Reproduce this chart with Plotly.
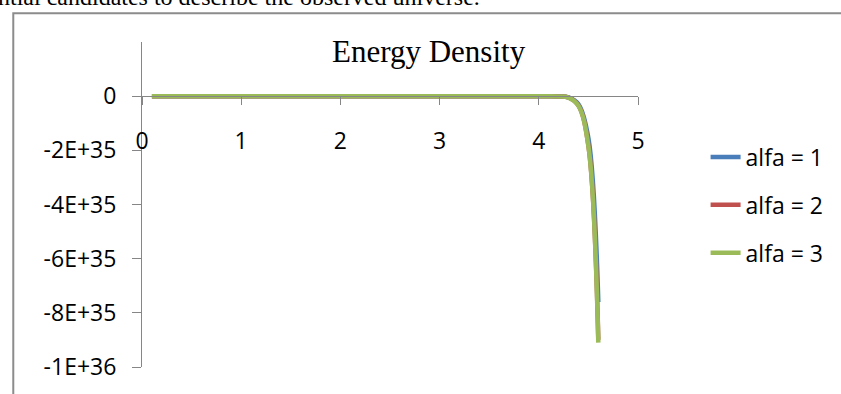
import plotly.graph_objects as go

# x positions of the samples
x_vals = [0.1, 0.2, 0.3, 0.4, 0.5, 0.6, 0.7, 0.8, 0.9, 1.0,
          1.1, 1.2, 1.3, 1.4, 1.5, 1.6, 1.7, 1.8, 1.9, 2.0,
          2.1, 2.2, 2.3, 2.4, 2.5, 2.6, 2.7, 2.8, 2.9, 3.0,
          3.1, 3.2, 3.3, 3.4, 3.5, 3.6, 3.7, 3.8, 3.9, 4.0,
          4.1, 4.2, 4.3, 4.4, 4.5, 4.6]

# flat stretch (0.1 .. 4.1), effectively zero on this scale
flat = [0, 0, 0, 0, 0, 0, 0, 0, 0, 0,
        0, 0, 0, 0, 0, 0, 0, 0, 0, 0,
        0, 0, 0, 0, 0, 0, 0, 0, 0, 0,
        0, 0, 0, 0, 0, 0, 0, 0, 0, 0,
        0]

# steep tail (4.2 .. 4.6)
tail_alfa1 = [-0.8e33, -4.5e33, -3.0e34, -1.55e35, -7.6e35]
tail_alfa2 = [-1.0e33, -5.0e33, -3.5e34, -1.82e35, -9.0e35]
tail_alfa3 = [-1.0e33, -5.2e33, -3.6e34, -1.85e35, -9.1e35]

alfa1 = flat + tail_alfa1
alfa2 = flat + tail_alfa2
alfa3 = flat + tail_alfa3

series_names = ["alfa = 1", "alfa = 2", "alfa = 3"]
series_colors = ["#4A7EBB", "#C0504D", "#9BBB59"]

y_tickvals = [0, -2e35, -4e35, -6e35, -8e35, -1e36]
y_ticktext = ["0", "-2E+35", "-4E+35", "-6E+35", "-8E+35", "-1E+36"]
x_tickvals = [0, 1, 2, 3, 4, 5]

W, H = 841, 394
L, R, T, B = 142, 200, 42, 25
pw, ph = W - L - R, H - T - B


def px_x(p):
    return (p - L) / pw


def px_y(p):
    return (H - B - p) / ph


fig = go.Figure()
for name, ys, col in zip(series_names, [alfa1, alfa2, alfa3], series_colors):
    fig.add_trace(go.Scatter(
        x=x_vals, y=ys, mode="lines", name=name, legendgroup=name,
        line=dict(color=col, width=4.5, shape="spline", smoothing=1.0),
    ))

tick_font = dict(family="Open Sans, sans-serif", size=23, color="#000000")
axis_col = "#868686"

fig.update_layout(
    width=W, height=H,
    margin=dict(l=L, r=R, t=T, b=B),
    paper_bgcolor="white", plot_bgcolor="white",
    showlegend=True,
    legend=dict(
        x=px_x(709), xanchor="left", y=px_y(136), yanchor="top",
        font=tick_font, traceorder="grouped", tracegroupgap=15,
        bgcolor="rgba(0,0,0,0)", borderwidth=0,
    ),
    xaxis=dict(
        range=[0, 5], tickvals=x_tickvals, anchor="free",
        position=10 / 12, showgrid=False, zeroline=False,
        showline=True, linecolor=axis_col, linewidth=1,
        ticks="outside", ticklen=8, tickcolor=axis_col,
        tickfont=tick_font, ticklabelstandoff=16,
    ),
    yaxis=dict(
        range=[-1e36, 2e35], tickvals=y_tickvals, ticktext=y_ticktext,
        showgrid=False, zeroline=False,
        showline=True, linecolor=axis_col, linewidth=1,
        ticks="outside", ticklen=9, tickcolor=axis_col,
        tickfont=tick_font, ticklabelstandoff=11,
    ),
    shapes=[dict(
        type="rect", xref="paper", yref="paper",
        x0=px_x(12.5), x1=px_x(900), y0=px_y(450), y1=px_y(13),
        line=dict(color="#8C8C8C", width=2), fillcolor="rgba(0,0,0,0)",
        layer="below",
    )],
    annotations=[
        dict(text="Energy Density", xref="paper", yref="paper",
             x=px_x(431), y=px_y(52), xanchor="center", yanchor="middle",
             showarrow=False,
             font=dict(family="Liberation Serif, Times New Roman, serif",
                       size=31, color="#000000")),
        dict(text="ntial candidates to describe the observed universe.",
             xref="paper", yref="paper",
             x=px_x(484), y=px_y(12), xanchor="right", yanchor="bottom",
             showarrow=False,
             font=dict(family="Liberation Serif, Times New Roman, serif",
                       size=24, color="#000000")),
    ],
)

fig.write_html("out.html")
